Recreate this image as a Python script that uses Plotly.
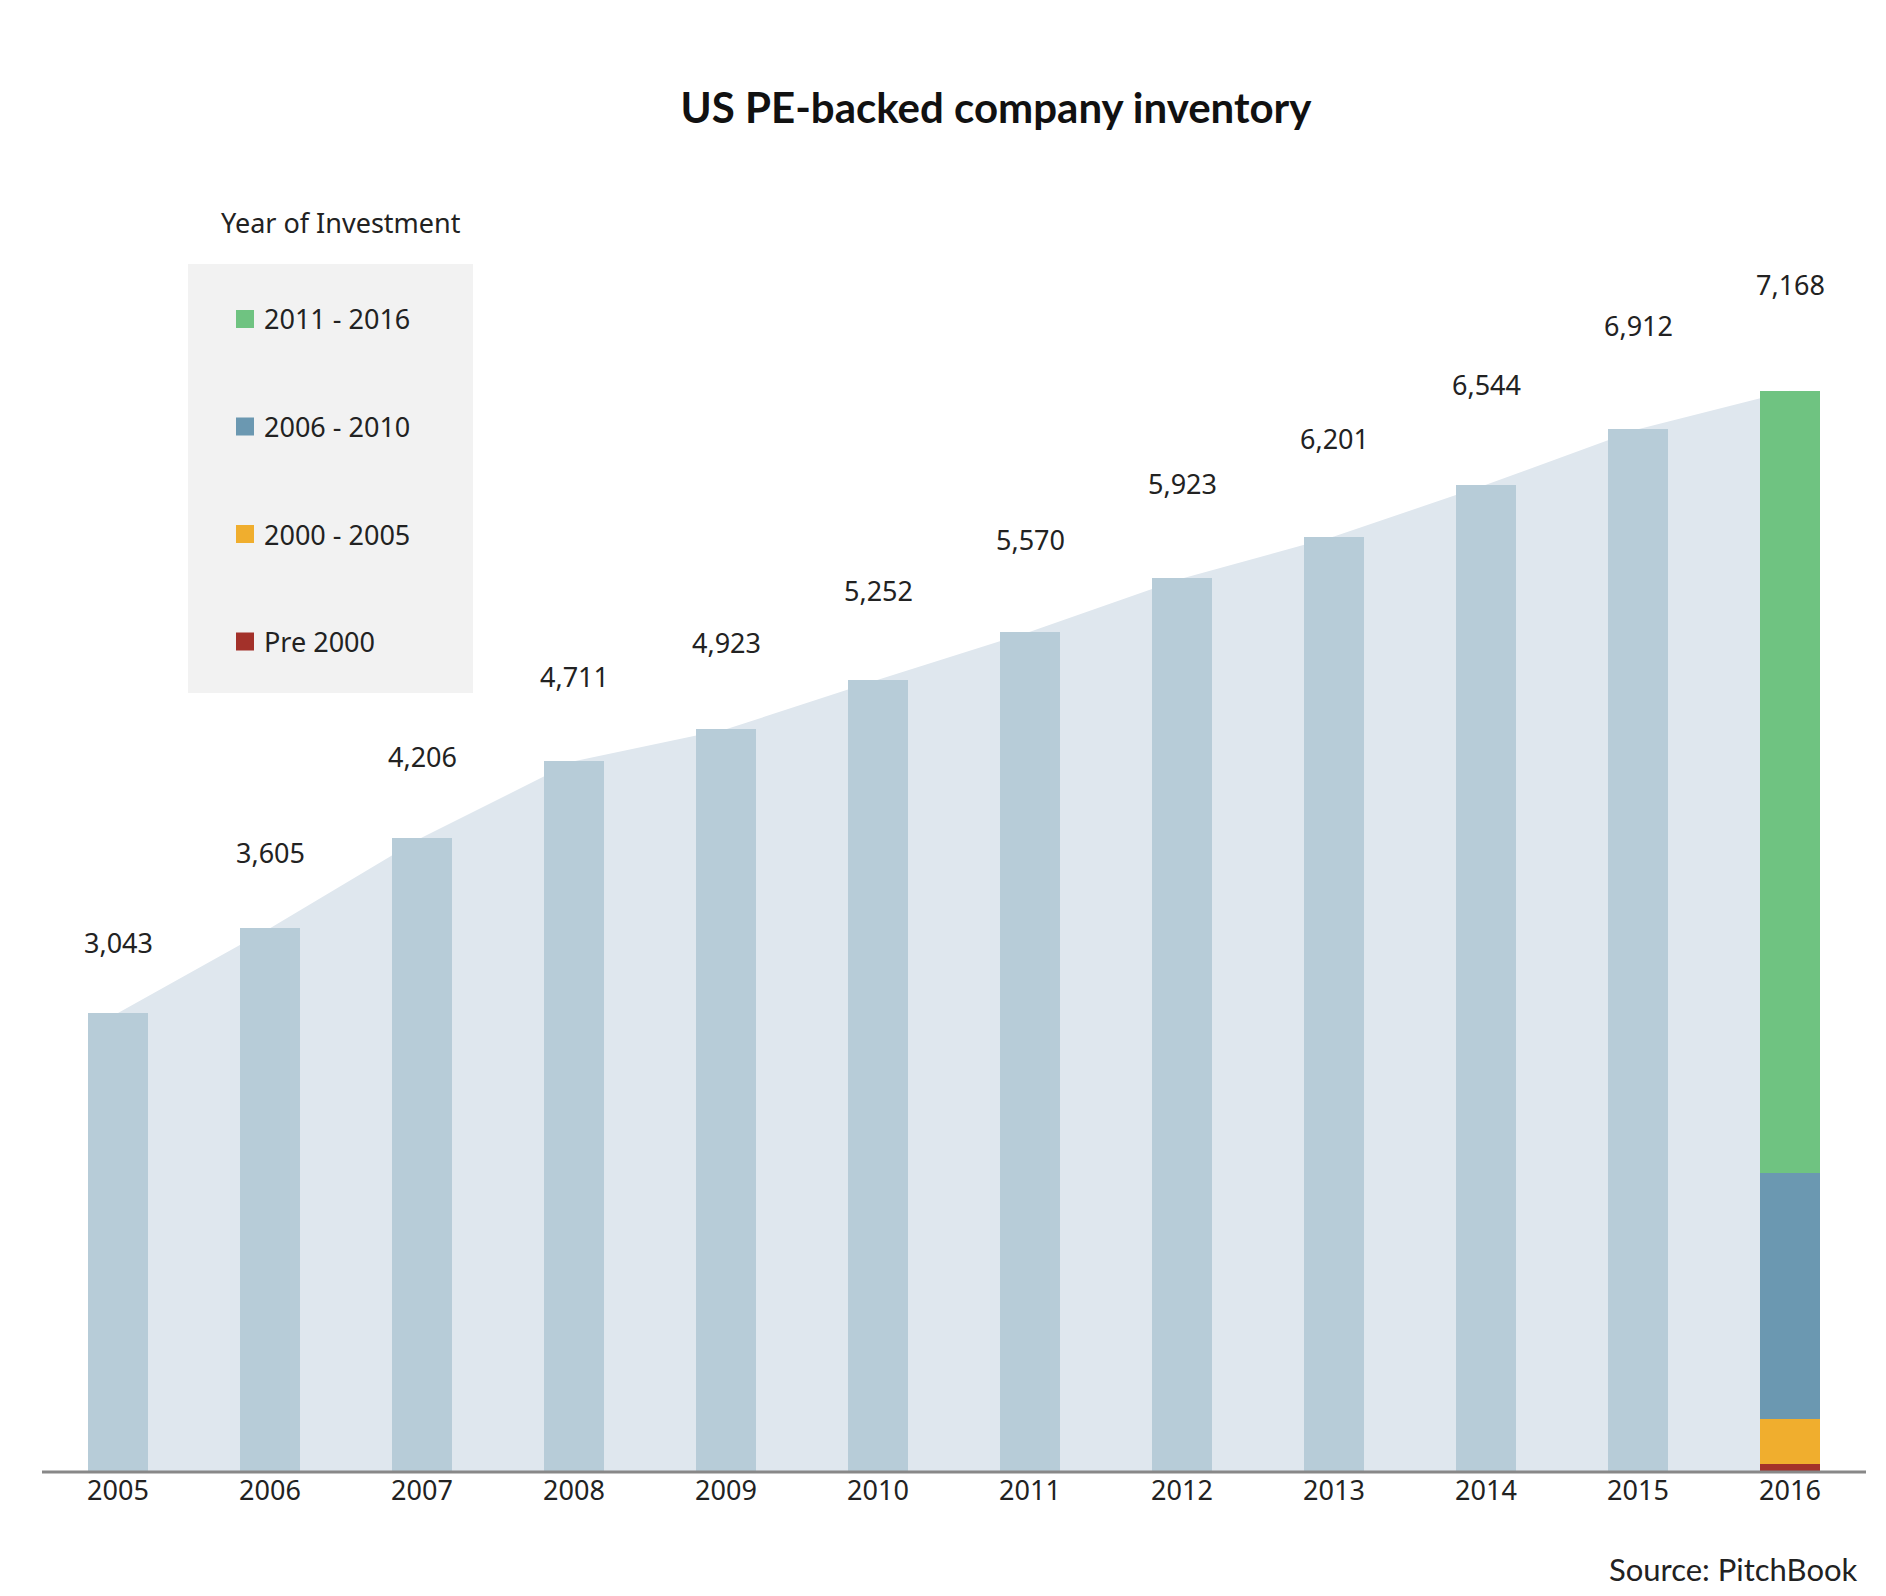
import plotly.graph_objects as go

years = [str(y) for y in range(2005, 2017)]
totals = [3043, 3605, 4206, 4711, 4923, 5252, 5570, 5923, 6201, 6544, 6912, 7168]

# 2016 split by year of investment (bottom to top)
groups = ["Pre 2000", "2000 - 2005", "2006 - 2010", "2011 - 2016"]
group_vals = [50, 300, 1630, 5188]
group_colors = ["#a3312a", "#f0ae2e", "#6b98b1", "#6fc381"]

W, H = 1886, 1596
L, R, T, B = 34, 28, 230, 132
PW, PH = W - L - R, H - T - B
YMAX = 8180


def px(x):
    return (x - L) / PW


def py(y):
    return (H - B - y) / PH


idx = list(range(len(years)))

fig = go.Figure()
# background area on base axes, bars on overlaying axes so they draw on top
fig.add_trace(go.Scatter(x=idx, y=totals, mode="lines", line=dict(width=0),
                         fill="tozeroy", fillcolor="#dfe7ee", hoverinfo="skip",
                         showlegend=False))
fig.add_trace(go.Bar(x=idx[:-1], y=totals[:-1], marker_color="#b7ccd8", marker_line_width=0,
                     width=0.4, showlegend=False, xaxis="x2", yaxis="y2"))
for g, v, c in zip(groups, group_vals, group_colors):
    fig.add_trace(go.Bar(x=[idx[-1]], y=[v], name=g, marker_color=c, marker_line_width=0,
                         width=0.4, showlegend=False, xaxis="x2", yaxis="y2"))

font = "Noto Sans, Open Sans, sans-serif"
ann = []
for i, v in zip(idx, totals):
    ann.append(dict(x=i, y=v, xref="x2", yref="y2", text=f"{v:,}", showarrow=False,
                    xanchor="center", yanchor="bottom",
                    yshift=50 + (v - 3000) * 0.0085,
                    font=dict(size=27, color="#222", family=font)))

# custom legend
shapes = [dict(type="rect", xref="paper", yref="paper", x0=px(180), x1=px(465),
               y0=py(685), y1=py(256), fillcolor="#f2f2f2", line_width=0, layer="below")]
ann.append(dict(xref="paper", yref="paper", x=px(333), y=py(215), text="Year of Investment",
                xanchor="center", yanchor="middle", showarrow=False,
                font=dict(size=27, color="#222", family=font)))
for i, (g, c) in enumerate(zip(reversed(groups), reversed(group_colors))):
    yy = 311 + i * 107.5
    shapes.append(dict(type="rect", xref="paper", yref="paper", x0=px(228), x1=px(246),
                       y0=py(yy + 9), y1=py(yy - 9), fillcolor=c, line_width=0))
    ann.append(dict(xref="paper", yref="paper", x=px(254), y=py(yy), text=g,
                    xanchor="left", yanchor="middle", showarrow=False,
                    font=dict(size=27, color="#222", family=font)))

ann.append(dict(xref="paper", yref="paper", x=px(1852), y=py(1561), text="Source: PitchBook",
                xanchor="right", yanchor="middle", showarrow=False,
                font=dict(size=31, color="#222", family="Lato, sans-serif")))

fig.update_layout(
    width=W, height=H,
    barmode="stack",
    margin=dict(l=L, r=R, t=T, b=B),
    plot_bgcolor="white", paper_bgcolor="white",
    title=dict(text="<b>US PE-backed company inventory</b>", x=988 / W, xanchor="center",
               y=1 - 100 / H, yanchor="middle",
               font=dict(size=42, color="#111", family="Lato, sans-serif")),
    xaxis=dict(range=[-0.5, 11.5], showline=False, showgrid=False, zeroline=False,
               tickvals=idx, ticktext=years, ticks="",
               tickfont=dict(size=27, color="#222", family=font)),
    yaxis=dict(range=[0, YMAX], visible=False, showgrid=False),
    xaxis2=dict(range=[-0.5, 11.5], overlaying="x", visible=False),
    yaxis2=dict(range=[0, YMAX], overlaying="y", visible=False),
    annotations=ann, shapes=shapes,
)
fig.add_shape(type="line", xref="paper", yref="paper", x0=0, x1=1, y0=0, y1=0,
              line=dict(color="#888", width=3))

fig.write_html("out.html")
